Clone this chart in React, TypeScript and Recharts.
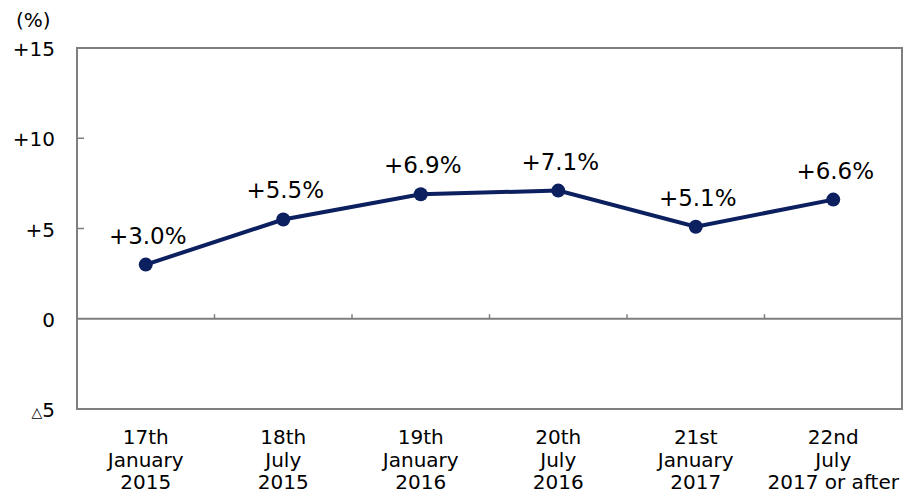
import { LineChart, Line, XAxis, YAxis, ReferenceLine, ReferenceArea, LabelList } from 'recharts';

const categories = [
  ['17th', 'January', '2015'],
  ['18th', 'July', '2015'],
  ['19th', 'January', '2016'],
  ['20th', 'July', '2016'],
  ['21st', 'January', '2017'],
  ['22nd', 'July', '2017 or after'],
];
const values = [3.0, 5.5, 6.9, 7.1, 5.1, 6.6];
const yTicks = [-5, 0, 5, 10, 15];
const boundaries = [0.5, 1.5, 2.5, 3.5, 4.5];

const NAVY = '#0c1f5f';
const GREY = '#7f7f7f';
const FONT = '"DejaVu Sans", Verdana, sans-serif';

const data = values.map((v, i) => ({ x: i, v }));

function YTick({ x, y, payload }: any) {
  const v = payload.value as number;
  return (
    <g>
      {v > -5 && v < 15 && v !== 0 && (
        <line x1={x + 1} x2={x + 7} y1={y} y2={y} stroke={GREY} strokeWidth={1.5} />
      )}
      <text x={x - 22} y={y + 8} textAnchor="end" fontSize={20} fill="#000" fontFamily={FONT}>
        {v < 0 && <tspan fontSize={14}>{'\u25B3'}</tspan>}
        <tspan>{v > 0 ? `+${v}` : `${Math.abs(v)}`}</tspan>
      </text>
    </g>
  );
}

function XTick({ x, y, payload }: any) {
  const lines = categories[payload.value] || [];
  return (
    <text x={x} y={y} textAnchor="middle" fontSize={20} fill="#000" fontFamily={FONT}>
      {lines.map((l, i) => (
        <tspan key={i} x={x} y={y + 35 + i * 22.5}>
          {l}
        </tspan>
      ))}
    </text>
  );
}

function PointLabel({ x, y, value }: any) {
  return (
    <text x={x + 2} y={y - 21} textAnchor="middle" fontSize={23} fill="#000" fontFamily={FONT}>
      {`+${Number(value).toFixed(1)}%`}
    </text>
  );
}

export default function App() {
  return (
    <div style={{ position: 'absolute', left: 0, top: 0, width: 903, height: 494, background: '#fff' }}>
      <div
        style={{
          position: 'absolute',
          left: 16,
          top: 8,
          fontSize: 20,
          lineHeight: '24px',
          fontFamily: FONT,
          color: '#000',
        }}
      >
        (%)
      </div>
      <LineChart width={903} height={494} data={data} margin={{ top: 48, right: 1, left: 0, bottom: 0 }}>
        <XAxis
          dataKey="x"
          type="number"
          domain={[-0.5, 5.5]}
          ticks={[0, 1, 2, 3, 4, 5]}
          tick={<XTick />}
          tickLine={false}
          tickSize={0}
          tickMargin={0}
          axisLine={false}
          height={85}
          interval={0}
        />
        <YAxis
          type="number"
          domain={[-5, 15]}
          ticks={yTicks}
          tick={<YTick />}
          tickLine={false}
          tickSize={0}
          tickMargin={0}
          axisLine={false}
          width={77}
          interval={0}
        />
        <ReferenceArea x1={-0.5} x2={5.5} y1={-5} y2={15} fill="none" stroke={GREY} strokeWidth={2} />
        <ReferenceLine y={0} stroke={GREY} strokeWidth={2} />
        {boundaries.map((b) => (
          <ReferenceLine
            key={b}
            segment={[
              { x: b, y: 0 },
              { x: b, y: 0.25 },
            ]}
            stroke={GREY}
            strokeWidth={1.5}
          />
        ))}
        <Line
          type="linear"
          dataKey="v"
          stroke={NAVY}
          strokeWidth={4}
          dot={{ r: 7, fill: NAVY, stroke: NAVY, strokeWidth: 0 }}
          isAnimationActive={false}
        >
          <LabelList dataKey="v" content={<PointLabel />} />
        </Line>
      </LineChart>
    </div>
  );
}
